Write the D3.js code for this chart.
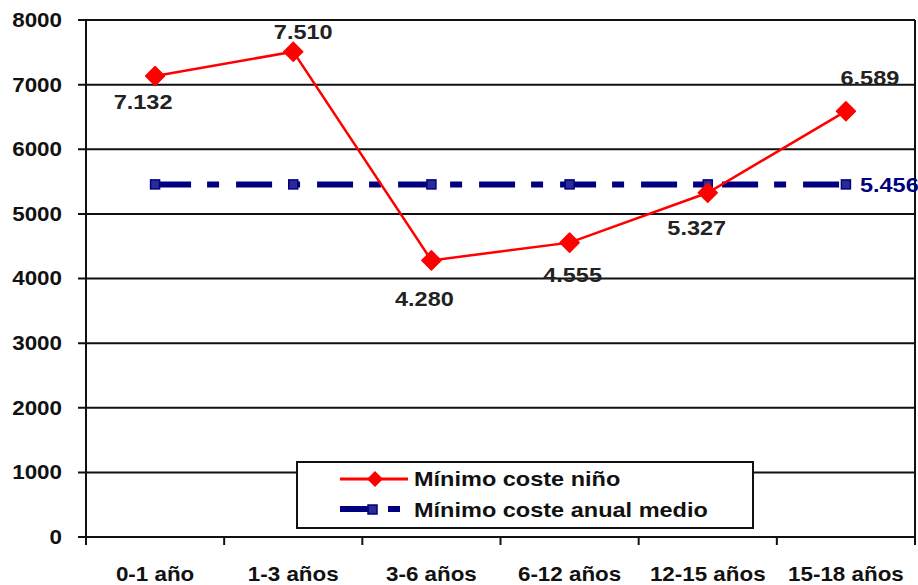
<!DOCTYPE html>
<html>
<head>
<meta charset="utf-8">
<script src="https://cdn.jsdelivr.net/npm/d3@7"></script>
<style>
  body { margin: 0; background: #fff; }
  svg { display: block; font-family: "Liberation Sans", Arial, sans-serif; }
</style>
</head>
<body>
<svg width="918" height="585"></svg>
<script>
// data
var categories = ["0-1 año", "1-3 años", "3-6 años", "6-12 años", "12-15 años", "15-18 años"];
var costeNino = [7132, 7510, 4280, 4555, 5327, 6589];
var costeMedio = [5456, 5456, 5456, 5456, 5456, 5456];
var yTicks = [0, 1000, 2000, 3000, 4000, 5000, 6000, 7000, 8000];
var seriesNames = ["Mínimo coste niño", "Mínimo coste anual medio"];

var SX = 1.12; // the source picture is a bit wider than tall

function fmt(v) {
    return d3.format(",")(v).replace(",", ".");
}

// stretch text horizontally around its own anchor
function stretch(sel) {
    sel.each(function () {
        var t = d3.select(this);
        var x = +t.attr("x") || 0, y = +t.attr("y") || 0;
        t.attr("x", 0).attr("y", 0)
            .attr("transform", "translate(" + x + "," + y + ") scale(" + SX + ",1)");
    });
}

function diamond(r) {
    return "M0," + (-r) + "L" + r + ",0L0," + r + "L" + (-r) + ",0Z";
}

function draw_chart() {
    var svg = d3.select("svg");
    var plot = { left: 86, right: 915, top: 20, bottom: 537 };

    var x = d3.scaleBand().domain(categories).range([plot.left, plot.right]);
    var y = d3.scaleLinear().domain([0, 8000]).range([plot.bottom, plot.top]);
    function cx(c) { return x(c) + x.bandwidth() / 2; }

    // gridlines
    svg.append("g")
        .selectAll("line")
        .data(yTicks)
        .enter().append("line")
        .attr("x1", plot.left - 8).attr("x2", plot.right)
        .attr("y1", function (d) { return y(d); })
        .attr("y2", function (d) { return y(d); })
        .attr("stroke", "#111")
        .attr("stroke-width", 2);

    // y axis labels
    var ya = svg.append("g")
        .attr("transform", "translate(" + plot.left + ",0)")
        .call(d3.axisLeft(y).tickValues(yTicks).tickSize(0).tickPadding(24).tickFormat(d3.format("d")));
    ya.select(".domain").remove();
    ya.selectAll("text")
        .attr("font-size", 20)
        .attr("font-weight", "bold")
        .attr("fill", "#111")
        .call(stretch);

    // frame lines
    svg.append("line").attr("x1", plot.left).attr("x2", plot.left).attr("y1", plot.top).attr("y2", plot.bottom + 8)
        .attr("stroke", "#111").attr("stroke-width", 2);
    svg.append("line").attr("x1", plot.right).attr("x2", plot.right).attr("y1", plot.top).attr("y2", plot.bottom + 8)
        .attr("stroke", "#111").attr("stroke-width", 2);

    // x axis boundary ticks
    svg.append("g")
        .selectAll("line")
        .data(d3.range(1, categories.length))
        .enter().append("line")
        .attr("x1", function (i) { return plot.left + i * x.step(); })
        .attr("x2", function (i) { return plot.left + i * x.step(); })
        .attr("y1", plot.bottom).attr("y2", plot.bottom + 8)
        .attr("stroke", "#111").attr("stroke-width", 2);

    var xa = svg.append("g")
        .attr("transform", "translate(0," + plot.bottom + ")")
        .call(d3.axisBottom(x).tickSize(0).tickPadding(30));
    xa.select(".domain").remove();
    xa.selectAll("text")
        .attr("font-size", 20)
        .attr("font-weight", "bold")
        .attr("fill", "#111")
        .call(stretch);

    // blue average line
    var blue = "#000080";
    var line = d3.line()
        .x(function (d, i) { return cx(categories[i]); })
        .y(function (d) { return y(d); });

    svg.append("path")
        .datum(costeMedio)
        .attr("d", line)
        .attr("fill", "none")
        .attr("stroke", blue)
        .attr("stroke-width", 6)
        .attr("stroke-dasharray", "36,16,12,17");

    svg.append("g")
        .selectAll("rect")
        .data(costeMedio)
        .enter().append("rect")
        .attr("x", function (d, i) { return cx(categories[i]) - 4.5; })
        .attr("y", function (d) { return y(d) - 4.5; })
        .attr("width", 9).attr("height", 9)
        .attr("fill", "#2b2b95")
        .attr("stroke", blue)
        .attr("stroke-width", 1.5);

    svg.append("text")
        .attr("x", cx(categories[5]) + 14)
        .attr("y", y(costeMedio[5]))
        .attr("dy", "0.36em")
        .attr("font-size", 21)
        .attr("font-weight", "bold")
        .attr("fill", blue)
        .text(fmt(costeMedio[5]))
        .call(stretch);

    // red line
    svg.append("path")
        .datum(costeNino)
        .attr("d", line)
        .attr("fill", "none")
        .attr("stroke", "#ff0000")
        .attr("stroke-width", 2.5);

    svg.append("g")
        .selectAll("path")
        .data(costeNino)
        .enter().append("path")
        .attr("d", diamond(9.5))
        .attr("transform", function (d, i) { return "translate(" + cx(categories[i]) + "," + y(d) + ")"; })
        .attr("fill", "#ff0000")
        .attr("stroke", "#ff0000")
        .attr("stroke-width", 1.5)
        .attr("stroke-linejoin", "round");

    // value labels, nudged like in the original
    var labelOffsets = [[-12, 25], [10, -20], [-7, 38], [3, 32], [-11, 35], [24, -34]];
    svg.append("g")
        .selectAll("text")
        .data(costeNino)
        .enter().append("text")
        .attr("x", function (d, i) { return cx(categories[i]) + labelOffsets[i][0]; })
        .attr("y", function (d, i) { return y(d) + labelOffsets[i][1]; })
        .attr("dy", "0.36em")
        .attr("text-anchor", "middle")
        .attr("font-size", 21)
        .attr("font-weight", "bold")
        .attr("fill", "#222")
        .text(function (d) { return fmt(d); })
        .call(stretch);

    // legend
    var lg = svg.append("g");
    lg.append("rect")
        .attr("x", 297).attr("y", 462)
        .attr("width", 456).attr("height", 66)
        .attr("fill", "#fff")
        .attr("stroke", "#111")
        .attr("stroke-width", 2);

    lg.append("line").attr("x1", 340).attr("x2", 408).attr("y1", 479).attr("y2", 479)
        .attr("stroke", "#ff0000").attr("stroke-width", 3);
    lg.append("path").attr("d", diamond(8)).attr("transform", "translate(375,479)")
        .attr("fill", "#ff0000");

    lg.append("line").attr("x1", 340).attr("x2", 403).attr("y1", 509).attr("y2", 509)
        .attr("stroke", blue).attr("stroke-width", 6).attr("stroke-dasharray", "36,12,12,20");
    lg.append("rect").attr("x", 368).attr("y", 505).attr("width", 9).attr("height", 9)
        .attr("fill", "#2b2b95").attr("stroke", blue).attr("stroke-width", 1.5);

    lg.selectAll("text.lbl")
        .data(seriesNames)
        .enter().append("text")
        .attr("class", "lbl")
        .attr("x", 414)
        .attr("y", function (d, i) { return 486 + i * 31; })
        .attr("font-size", 21)
        .attr("font-weight", "bold")
        .attr("fill", "#111")
        .text(function (d) { return d; })
        .call(stretch);
}

draw_chart();
</script>
</body>
</html>
